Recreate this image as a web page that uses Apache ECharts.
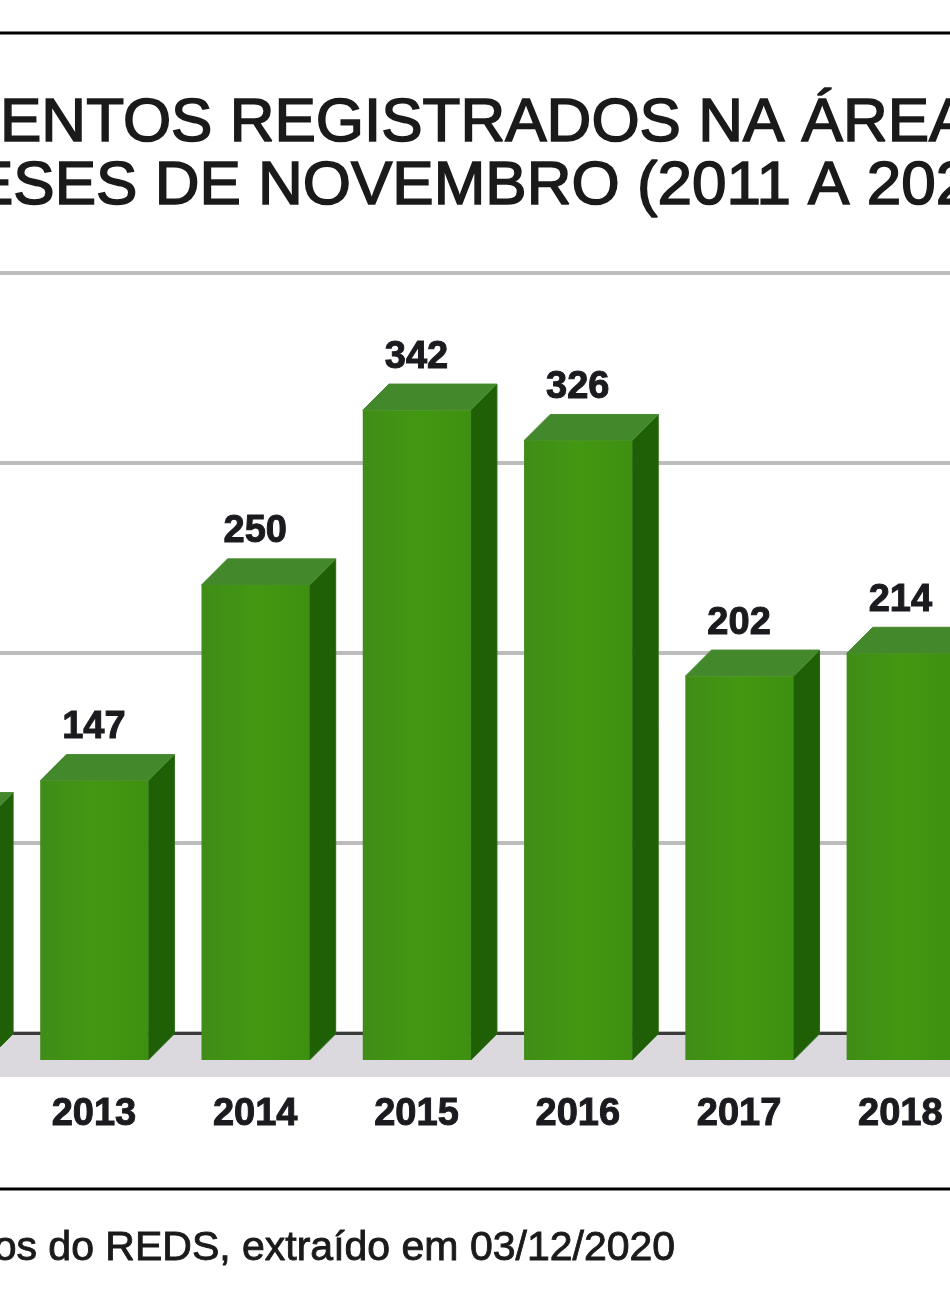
<!DOCTYPE html>
<html>
<head>
<meta charset="utf-8">
<script src="https://cdn.jsdelivr.net/npm/echarts@6/dist/echarts.min.js"></script>
<style>
html,body{margin:0;padding:0;background:#fff;overflow:hidden}
#chart{width:950px;height:1312px;filter:blur(0.6px)}
</style>
</head>
<body>
<div id="chart"></div>
<script>
const categories = ['2012','2013','2014','2015','2016','2017','2018'];
const values = [127,147,250,342,326,202,214];
const labelledFrom = 1;
const valueTicks = {min:0,max:400,interval:100};
const titleLine1 = 'ENTOS REGISTRADOS NA ÁREA';
const titleLine2 = 'ESES DE NOVEMBRO (2011 A 2020)';
const sourceText = 'os do REDS, extraído em 03/12/2020';

const FONT = '"Liberation Sans", Arial, sans-serif';
const INK = '#1a1a1f';
const chart = echarts.init(document.getElementById('chart'), null, {renderer:'canvas'});

function renderBar(params, api){
  const idx = api.value(0), v = api.value(1);
  const top = api.coord([idx, v]);
  const base = api.coord([idx, 0]);
  const band = api.size([1,0])[0];
  const w = band * 0.67, d = band * 0.162;
  const l = top[0] - w/2 + 0.3, r = l + w;
  const grad = new echarts.graphic.LinearGradient(0,0,1,0,[
    {offset:0,color:'#3f8c17'},{offset:0.5,color:'#439812'},{offset:1,color:'#3e9010'}]);
  const children = [
    {type:'polygon',shape:{points:[[r,top[1]],[r+d,top[1]-d],[r+d,base[1]-d],[r,base[1]]]},style:{fill:'#1f5f06',stroke:'#2b6a16',lineWidth:1}},
    {type:'polygon',shape:{points:[[l,top[1]],[l+d,top[1]-d],[r+d,top[1]-d],[r,top[1]]]},style:{fill:'#43882a',stroke:'#4a8a33',lineWidth:1}},
    {type:'rect',shape:{x:l,y:top[1],width:w,height:base[1]-top[1]},style:{fill:grad}},
  ];
  if (params.dataIndex >= labelledFrom) {
    children.push({type:'text',style:{x:top[0],y:top[1]-53,text:String(v),align:'center',verticalAlign:'middle',
      fill:INK,font:'bold 38px '+FONT,stroke:INK,lineWidth:1}});
  }
  return {type:'group',children};
}

const titleStyle = {fontFamily:FONT,fontSize:62,fontWeight:'normal',color:'#1a1a1a',textBorderColor:'#1a1a1a',textBorderWidth:1.6};

chart.setOption({
  animation:false,
  backgroundColor:'#ffffff',
  title:[
    {text:titleLine1,left:-5,top:88,textStyle:titleStyle},
    {text:titleLine2,left:-33,top:151,textStyle:titleStyle},
    {text:sourceText,right:269,top:1223,textStyle:{fontFamily:FONT,fontSize:41,fontWeight:'normal',color:'#1a1a1a',textBorderColor:'#1a1a1a',textBorderWidth:0.9}}
  ],
  graphic:[
    {type:'rect',shape:{x:0,y:1035,width:950,height:42},style:{fill:'#dbd9de'}},
    {type:'line',shape:{x1:0,y1:33,x2:950,y2:33},style:{stroke:'#000',lineWidth:3}},
    {type:'line',shape:{x1:0,y1:1189,x2:950,y2:1189},style:{stroke:'#000',lineWidth:3}}
  ],
  grid:[
    {left:-148,width:1129,top:273,height:760,outerBoundsMode:'none'},
    {left:-148,width:1129,top:300,height:760,outerBoundsMode:'none'}
  ],
  xAxis:[
    {type:'category',gridIndex:0,data:categories,axisTick:{show:false},axisLabel:{show:false},
     axisLine:{lineStyle:{color:'#3a3a3a',width:3}},splitLine:{show:false}},
    {type:'category',gridIndex:1,data:categories,axisTick:{show:false},axisLine:{show:false},
     axisLabel:{margin:36,color:INK,fontFamily:FONT,fontWeight:'bold',fontSize:38,textBorderColor:INK,textBorderWidth:1},splitLine:{show:false}}
  ],
  yAxis:[
    {type:'value',gridIndex:0,...valueTicks,axisLabel:{show:false},axisTick:{show:false},axisLine:{show:false},
     splitLine:{lineStyle:{color:'#bcbcbc',width:4}}},
    {type:'value',gridIndex:1,...valueTicks,axisLabel:{show:false},axisTick:{show:false},axisLine:{show:false},splitLine:{show:false}}
  ],
  series:[{
    type:'custom',xAxisIndex:1,yAxisIndex:1,clip:false,
    encode:{x:0,y:1},
    data:categories.map((c,i)=>[i,values[i]]),
    renderItem:renderBar
  }]
});
</script>
</body>
</html>
